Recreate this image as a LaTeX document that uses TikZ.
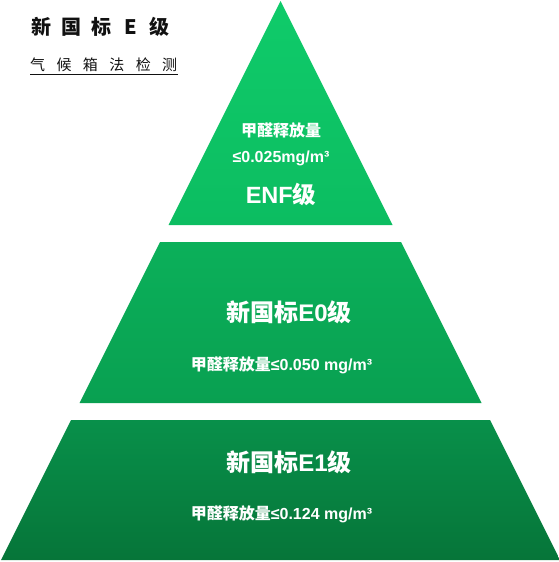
\documentclass[tikz,border=0pt]{standalone}
\usepackage{fontspec}
\setmainfont{Liberation Sans}
\newfontfamily\cjk{Noto Sans CJK SC}
\definecolor{aTop}{HTML}{0FCB6A}
\definecolor{aBot}{HTML}{0CBD61}
\definecolor{bTop}{HTML}{0BB05A}
\definecolor{bBot}{HTML}{09A051}
\definecolor{cTop}{HTML}{08904A}
\definecolor{cBot}{HTML}{067539}
\definecolor{ink}{HTML}{111111}
\begin{document}
\begin{tikzpicture}[x=1pt,y=-1pt,
  lbl/.style={text=white,inner sep=0pt,anchor=center},
  big/.style={lbl,font=\fontsize{24}{26}\selectfont\bfseries},
  mid/.style={lbl,font=\fontsize{23.5}{25}\selectfont\bfseries},
  small/.style={lbl,font=\fontsize{16}{18}\selectfont\bfseries},
  titletext/.style={inner sep=0pt,anchor=west,text=ink,font=\fontsize{20}{22}\selectfont\cjk\bfseries},
  subtext/.style={inner sep=0pt,anchor=west,text=ink,font=\fontsize{15}{17}\selectfont\cjk},
]
\useasboundingbox (0,0) rectangle (559,562);
% pyramid layers
\coordinate (apex) at (280.5,1);
\coordinate (t1l) at (168.5,225); \coordinate (t1r) at (392.5,225);
\coordinate (m0l) at (160,242);   \coordinate (m0r) at (401,242);
\coordinate (m1l) at (79.5,403);  \coordinate (m1r) at (481.5,403);
\coordinate (b0l) at (71,420);    \coordinate (b0r) at (490,420);
\coordinate (b1l) at (1,560);     \coordinate (b1r) at (560,560);
\shade[top color=aTop,bottom color=aBot] (apex) -- (t1r) -- (t1l) -- cycle;
\shade[top color=bTop,bottom color=bBot] (m0l) -- (m0r) -- (m1r) -- (m1l) -- cycle;
\shade[top color=cTop,bottom color=cBot] (b0l) -- (b0r) -- (b1r) -- (b1l) -- cycle;
% title
\node[titletext] (title) at (31,27) {新\kern10pt 国\kern10pt 标\kern13pt E\kern13pt 级};
\node[subtext] (sub) at (30,65) {气\kern11.4pt 候\kern11.4pt 箱\kern11.4pt 法\kern11.4pt 检\kern11.4pt 测};
\draw[ink,line width=0.8pt] (30,74.5) -- (178,74.5);
% top layer
\node[small] (enfa) at (281,130) {{\cjk 甲醛释放量}};
\node[small] (enfb) at (281,158) {≤0.025mg/m³};
\node[mid] (enfc) at (281,194) {ENF{\cjk 级}};
% middle layer
\node[big] (e0a) at (289,312) {{\cjk 新国标}E0{\cjk 级}};
\node[small] (e0b) at (281.5,365) {{\cjk 甲醛释放量}≤0.050 mg/m³};
% bottom layer
\node[big] (e1a) at (289,462) {{\cjk 新国标}E1{\cjk 级}};
\node[small] (e1b) at (281.5,514) {{\cjk 甲醛释放量}≤0.124 mg/m³};
\end{tikzpicture}
\end{document}
